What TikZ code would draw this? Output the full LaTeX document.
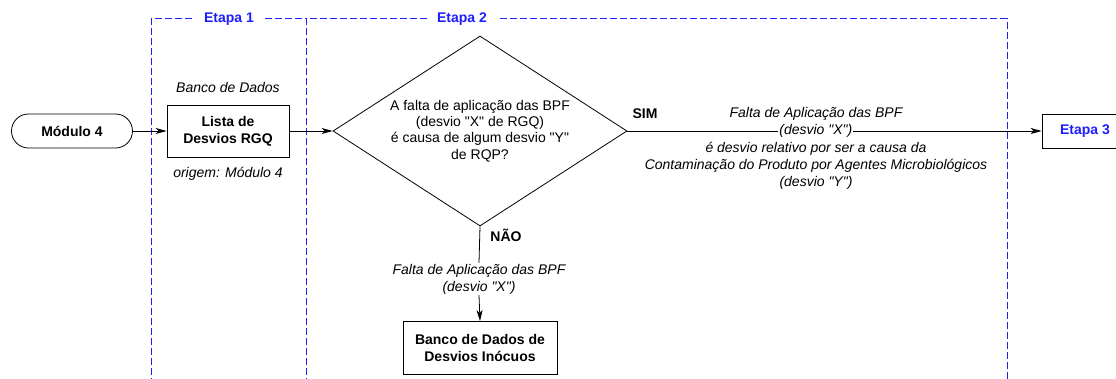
\documentclass[tikz,border=0pt]{standalone}
\usepackage{fontspec}
\setmainfont{Liberation Sans}[Ligatures=TeXOff]
\usetikzlibrary{shapes.geometric,arrows.meta}
\definecolor{stageblue}{RGB}{30,30,255}
\begin{document}
\begin{tikzpicture}[x=1pt,y=-1pt,
  font=\fontsize{14}{17}\selectfont,
  stageframe/.style={draw=stageblue, line width=1pt, dash pattern=on 7pt off 3pt},
  etapalbl/.style={fill=white, text=stageblue, font=\fontsize{14}{17}\selectfont\bfseries, inner xsep=10pt, inner ysep=2pt},
  flowbox/.style={draw, line width=0.8pt, font=\fontsize{14}{17}\selectfont\bfseries, align=center, inner sep=0pt},
  arr/.style={line width=0.8pt, -{Stealth[length=11pt,width=6pt,inset=3pt]}},
  note/.style={font=\fontsize{14}{17}\selectfont\itshape, align=center, inner sep=1pt},
  boldlbl/.style={font=\fontsize{14}{17}\selectfont\bfseries, inner sep=1pt}]
\useasboundingbox (0,0) rectangle (1116,379);
% frames
\draw[stageframe] (151,385) -- (151,19) -- (306,19);
\draw[stageframe] (306,385) -- (306,19) -- (1007,19) -- (1007,385);
\node[etapalbl] (et1) at (229,19) {Etapa 1};
\node[etapalbl] (et2) at (462,19) {Etapa 2};
% nodes
\node[flowbox, rounded corners=17pt, minimum width=121pt, minimum height=34pt] (m4) at (72,131) {Módulo 4};
\node[flowbox, minimum width=122pt, minimum height=52pt] (lista) at (228,131) {Lista de\\Desvios RGQ};
\node[note] (bd) at (228,88) {Banco de Dados};
\node[note] (orig) at (228,174) {origem: Módulo 4};
\node[diamond, draw, line width=0.8pt, aspect=1.547, minimum width=294pt, minimum height=190pt,
      inner sep=0pt, align=center, font=\fontsize{14}{16.3}\selectfont] (dia) at (480,131)
      {A falta de aplicação das BPF\\(desvio "X" de RGQ)\\é causa de algum desvio "Y"\\de RQP?};
\node[flowbox, text=stageblue, minimum width=86pt, minimum height=34pt] (e3) at (1085,131) {Etapa 3};
\node[flowbox, minimum width=154pt, minimum height=53pt] (bdi) at (480,348) {Banco de Dados de\\Desvios Inócuos};
% labels
\node[boldlbl] (sim) at (645,114) {SIM};
\node[boldlbl] (nao) at (506,235) {NÃO};
\node[note] (l1) at (816,114) {Falta de Aplicação das BPF};
\node[note] (l3) at (816,166) {é desvio relativo por ser a causa da\\Contaminação do Produto por Agentes Microbiológicos\\(desvio "Y")};
\node[note, fill=white] (bl) at (479,279) {Falta de Aplicação das BPF\\(desvio "X")};
% connectors
\draw[arr] (m4) -- (lista);
\draw[arr] (lista) -- (dia.west);
\draw[arr] (dia.east) -- node[pos=0.455, note, fill=white] (lx) {(desvio "X")} (e3);
\draw[line width=0.8pt] (dia.south) -- (bl.north);
\draw[arr] (bl.south) -- (bdi.north);
\end{tikzpicture}
\end{document}
